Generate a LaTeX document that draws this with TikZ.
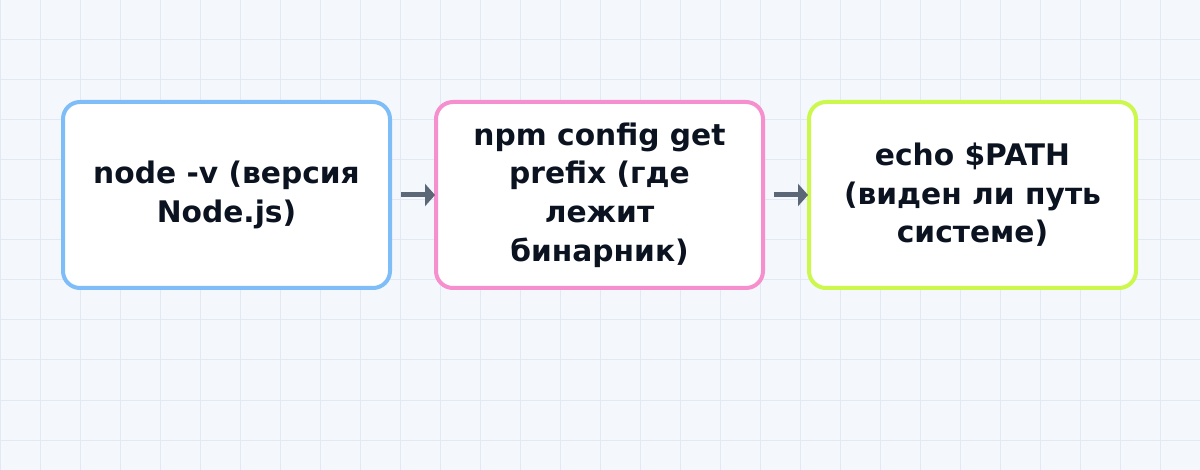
\documentclass[tikz,border=0pt]{standalone}
\usepackage{fontspec}
\setmainfont{DejaVu Sans}
\usetikzlibrary{arrows.meta}
\definecolor{bgc}{HTML}{F4F8FC}
\definecolor{gridc}{HTML}{E2E9F4}
\definecolor{bluec}{HTML}{7EBDF7}
\definecolor{pinkc}{HTML}{F68FCD}
\definecolor{limec}{HTML}{CCF74C}
\definecolor{arrc}{HTML}{5B6677}
\definecolor{txtc}{HTML}{0B1220}
\tikzset{
  x=1pt, y=-1pt,
  stepbox/.style={draw, line width=4pt, rounded corners=17pt, fill=white, outer sep=0pt,
    minimum width=327pt, minimum height=186pt, inner sep=0pt, anchor=north west},
  lbl/.style={align=center, text=txtc, font=\fontsize{29.7}{38.6}\selectfont\bfseries},
  conn/.style={draw=arrc, line width=5pt, -{Triangle[length=10pt,width=22pt]}, shorten <=11pt, shorten >=1pt}
}
\begin{document}
\begin{tikzpicture}
\fill[bgc] (0,0) rectangle (1200,470);
\useasboundingbox (0,0) rectangle (1200,470);
\foreach \gx in {0,40,...,1200} \draw[gridc, line width=1pt] (\gx,0) -- (\gx,470);
\foreach \gy in {0,40,...,440} \draw[gridc, line width=1pt] (0,\gy) -- (1200,\gy);
\node[stepbox, draw=bluec] (b1) at (63,102) {};
\node[stepbox, draw=pinkc] (b2) at (436,102) {};
\node[stepbox, draw=limec] (b3) at (809,102) {};
\node[lbl] (t1) at (b1.center) {node -v (версия\\Node.js)};
\node[lbl] (t2) at (b2.center) {npm config get\\prefix (где\\лежит\\бинарник)};
\node[lbl] (t3) at (b3.center) {echo \$PATH\\(виден ли путь\\системе)};
\draw[conn] (b1.east) -- (b2.west);
\draw[conn] (b2.east) -- (b3.west);
\end{tikzpicture}
\end{document}
